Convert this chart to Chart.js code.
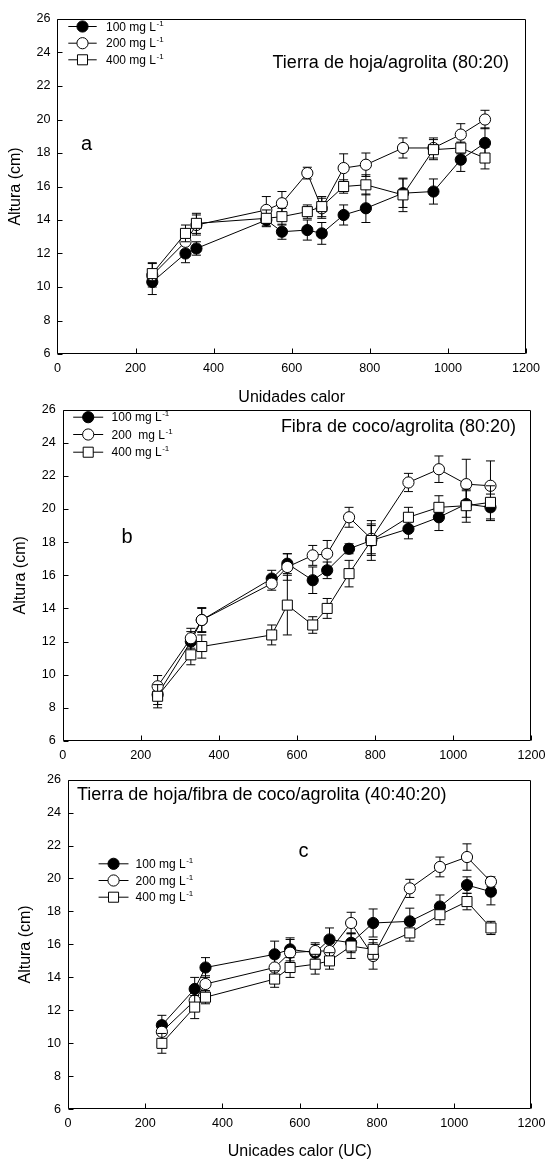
<!DOCTYPE html>
<html>
<head>
<meta charset="utf-8">
<script src="https://cdn.jsdelivr.net/npm/chart.js@4.4.0/dist/chart.umd.min.js"></script>
<style>
html, body { margin: 0; padding: 0; background: #fff; }
#wrap { position: relative; width: 552px; height: 1160px; overflow: hidden; }
canvas { position: absolute; left: 0; }
</style>
</head>
<body>
<div id="wrap">
  <canvas id="ca" width="552" height="410" style="top:0px"></canvas>
  <canvas id="cb" width="552" height="375" style="top:395px"></canvas>
  <canvas id="cc" width="552" height="395" style="top:765px"></canvas>
</div>
<script>
// ---------------- DATA ----------------
const heatUnits = [243, 328, 356, 535, 575, 640, 677, 733, 790, 885, 963, 1033, 1095];
const xTickValues = [0, 200, 400, 600, 800, 1000, 1200];
const xTickLabels = ['0', '200', '400', '600', '800', '1000', '1200'];
const yTickValues = [6, 8, 10, 12, 14, 16, 18, 20, 22, 24, 26];
const yTickLabels = ['6', '8', '10', '12', '14', '16', '18', '20', '22', '24', '26'];

// Panel a: Tierra de hoja/agrolita (80:20)
const a100 = [10.3, 12.0, 12.3, 14.0, 13.3, 13.4, 13.2, 14.3, 14.7, 15.6, 15.7, 17.6, 18.6];
const a200 = [10.7, 12.7, 13.7, 14.6, 15.0, 16.8, 14.7, 17.1, 17.3, 18.3, 18.3, 19.1, 20.0];
const a400 = [10.8, 13.2, 13.8, 14.1, 14.2, 14.5, 14.8, 16.0, 16.1, 15.5, 18.2, 18.3, 17.7];
const a100Err = [0.75, 0.55, 0.4, 0.35, 0.45, 0.6, 0.65, 0.6, 0.85, 0.85, 0.75, 0.7, 0.9];
const a200Err = [0.7, 0.5, 0.6, 0.8, 0.7, 0.35, 0.6, 0.85, 0.7, 0.6, 0.6, 0.65, 0.55];
const a400Err = [0.65, 0.5, 0.6, 0.5, 0.5, 0.4, 0.6, 0.4, 0.6, 1.0, 0.6, 0.35, 0.65];

// Panel b: Fibra de coco/agrolita (80:20)
const b100 = [8.8, 12.0, 13.3, 15.8, 16.7, 15.7, 16.3, 17.6, 18.1, 18.8, 19.5, 20.3, 20.1];
const b200 = [9.3, 12.2, 13.3, 15.5, 16.5, 17.2, 17.3, 19.5, 18.2, 21.6, 22.4, 21.5, 21.4];
const b400 = [8.7, 11.2, 11.7, 12.4, 14.2, 13.0, 14.0, 16.1, 18.1, 19.5, 20.1, 20.2, 20.4];
const b100Err = [0.6, 0.6, 0.7, 0.5, 0.6, 0.8, 0.5, 0.3, 0.9, 0.6, 0.8, 0.8, 0.8];
const b200Err = [0.65, 0.6, 0.75, 0.4, 0.8, 0.6, 0.8, 0.6, 0.9, 0.55, 0.8, 1.5, 1.5];
const b400Err = [0.7, 0.6, 0.7, 0.6, 1.8, 0.5, 0.6, 0.8, 1.2, 0.6, 0.7, 1.0, 1.0];

// Panel c: Tierra de hoja/fibra de coco/agrolita (40:40:20)
const c100 = [11.1, 13.3, 14.6, 15.4, 15.7, 15.5, 16.3, 16.1, 17.3, 17.4, 18.3, 19.6, 19.2];
const c200 = [10.7, 12.6, 13.6, 14.6, 15.5, 15.6, 15.6, 17.3, 15.3, 19.4, 20.7, 21.3, 19.8];
const c400 = [10.0, 12.2, 12.8, 13.9, 14.6, 14.8, 15.0, 15.9, 15.7, 16.7, 17.8, 18.6, 17.0];
const c100Err = [0.6, 0.7, 0.6, 0.8, 0.7, 0.5, 0.7, 0.6, 0.85, 0.8, 0.7, 0.5, 0.8];
const c200Err = [0.6, 0.6, 0.5, 0.6, 0.8, 0.5, 0.5, 0.65, 0.8, 0.55, 0.6, 0.8, 0.3];
const c400Err = [0.6, 0.7, 0.4, 0.5, 0.6, 0.6, 0.5, 0.75, 0.6, 0.5, 0.6, 0.5, 0.4];

// Text
const panelTitles = ['Tierra de hoja/agrolita (80:20)', 'Fibra de coco/agrolita (80:20)', 'Tierra de hoja/fibra de coco/agrolita (40:40:20)'];
const panelLetters = ['a', 'b', 'c'];
const legendLabelsA = ['100 mg L', '200 mg L', '400 mg L'];
const legendLabelsB = ['100 mg L', '200  mg L', '400 mg L'];
const legendLabelsC = ['100 mg L', '200 mg L', '400 mg L'];
const legendSup = '-1';
const yTitle = 'Altura (cm)';
const xTitles = ['Unidades calor', '', 'Unicades calor (UC)'];

// ---------------- STYLE / LAYOUT ----------------
const FONT = "'Liberation Sans', Arial, Helvetica, sans-serif";
Chart.defaults.font.family = FONT;
Chart.defaults.color = '#000';

const seriesStyles = [
  { shape: 'circle', fill: '#000', radius: 5.6 },
  { shape: 'circle', fill: '#fff', radius: 5.6 },
  { shape: 'rect', fill: '#fff', radius: 7.1 }
];

const layouts = [
  { id: 'ca', height: 410, left: 57.4, right: 526, areaTop: 19, areaBottom: 354,
    yTitlePad: 8, xTitle: xTitles[0], xTitlePad: 4, tickPad: 7,
    title: { text: panelTitles[0], x: 509, y: 67.5, align: 'right' },
    letter: { text: panelLetters[0], x: 81, y: 149.5 },
    legend: { labels: legendLabelsA, x0: 68.3, x1: 96.7, tx: 106, rows: [26, 42.7, 59.3] },
    series: [[a100, a100Err], [a200, a200Err], [a400, a400Err]] },
  { id: 'cb', height: 375, left: 62.7, right: 531.5, areaTop: 13, areaBottom: 346,
    yTitlePad: 13, xTitle: xTitles[1], xTitlePad: 0, tickPad: 6.5,
    title: { text: panelTitles[1], x: 516, y: 36.7, align: 'right' },
    letter: { text: panelLetters[1], x: 121.5, y: 147.7 },
    legend: { labels: legendLabelsB, x0: 73.2, x1: 103.2, tx: 111.6, rows: [21.7, 39, 56.7] },
    series: [[b100, b100Err], [b200, b200Err], [b400, b400Err]] },
  { id: 'cc', height: 395, left: 68, right: 537, areaTop: 9.3, areaBottom: 344.3,
    yTitlePad: 18, xTitle: xTitles[2], xTitlePad: 0.3, tickPad: 6.5,
    title: { text: panelTitles[2], x: 77, y: 35, align: 'left' },
    letter: { text: panelLetters[2], x: 298.6, y: 91.7 },
    legend: { labels: legendLabelsC, x0: 98.6, x1: 128.5, tx: 135.6, rows: [98.3, 115, 131.7] },
    series: [[c100, c100Err], [c200, c200Err], [c400, c400Err]] }
];

function drawMarker(ctx, style, x, y) {
  ctx.save();
  ctx.fillStyle = style.fill;
  ctx.strokeStyle = '#000';
  ctx.lineWidth = 1;
  ctx.beginPath();
  if (style.shape === 'circle') {
    ctx.arc(x, y, style.radius, 0, Math.PI * 2);
  } else {
    const s = style.radius * Math.SQRT1_2;
    ctx.rect(x - s, y - s, 2 * s, 2 * s);
  }
  ctx.fill();
  ctx.stroke();
  ctx.restore();
}

const decorPlugin = {
  id: 'decor',
  beforeDatasetDraw(chart, args) {
    const ds = chart.data.datasets[args.index];
    const xs = chart.scales.x, ys = chart.scales.y;
    const ctx = chart.ctx;
    ctx.save();
    ctx.strokeStyle = '#000';
    ctx.lineWidth = 1;
    ds.data.forEach((p, i) => {
      const e = ds.errors[i];
      const x = xs.getPixelForValue(p.x);
      const y1 = ys.getPixelForValue(p.y + e);
      const y2 = ys.getPixelForValue(p.y - e);
      ctx.beginPath();
      ctx.moveTo(x, y1); ctx.lineTo(x, y2);
      ctx.moveTo(x - 4.5, y1); ctx.lineTo(x + 4.5, y1);
      ctx.moveTo(x - 4.5, y2); ctx.lineTo(x + 4.5, y2);
      ctx.stroke();
    });
    ctx.restore();
  },
  afterDraw(chart) {
    const L = chart.options.plugins.decor.layout;
    const ctx = chart.ctx;
    const a = chart.chartArea;
    const xs = chart.scales.x, ys = chart.scales.y;
    ctx.save();
    ctx.strokeStyle = '#000';
    ctx.lineWidth = 1;
    // frame
    const l = Math.round(a.left) + 0.5, r = Math.round(a.right) - 0.5;
    const t = Math.round(a.top) + 0.5, b = Math.round(a.bottom) - 0.5;
    ctx.beginPath();
    ctx.rect(l, t, r - l, b - t);
    ctx.stroke();
    // inward ticks
    ctx.beginPath();
    xTickValues.forEach(v => {
      const x = Math.round(xs.getPixelForValue(v)) + 0.5;
      ctx.moveTo(x, b); ctx.lineTo(x, b - 5);
    });
    yTickValues.forEach(v => {
      const y = Math.round(ys.getPixelForValue(v)) + 0.5;
      ctx.moveTo(l, y); ctx.lineTo(l + 5, y);
    });
    ctx.stroke();
    // panel title and letter
    ctx.fillStyle = '#000';
    ctx.textBaseline = 'alphabetic';
    ctx.font = '18px ' + FONT;
    ctx.textAlign = L.title.align;
    ctx.fillText(L.title.text, L.title.x, L.title.y);
    ctx.font = '20px ' + FONT;
    ctx.textAlign = 'left';
    ctx.fillText(L.letter.text, L.letter.x, L.letter.y);
    // legend
    L.legend.rows.forEach((y, i) => {
      ctx.beginPath();
      ctx.moveTo(L.legend.x0, y + 0.5);
      ctx.lineTo(L.legend.x1, y + 0.5);
      ctx.stroke();
      drawMarker(ctx, seriesStyles[i], (L.legend.x0 + L.legend.x1) / 2, y + 0.5);
      ctx.fillStyle = '#000';
      ctx.font = '12px ' + FONT;
      ctx.textAlign = 'left';
      ctx.textBaseline = 'alphabetic';
      const txt = L.legend.labels[i];
      ctx.fillText(txt, L.legend.tx, y + 4.5);
      const w = ctx.measureText(txt).width;
      ctx.font = '8px ' + FONT;
      ctx.fillText(legendSup, L.legend.tx + w + 0.5, y - 0.5);
    });
    ctx.restore();
  }
};

function makeChart(L) {
  const datasets = L.series.map((s, i) => ({
    data: heatUnits.map((x, k) => ({ x: x, y: s[0][k] })),
    errors: s[1],
    borderColor: '#000',
    borderWidth: 1,
    showLine: true,
    fill: false,
    tension: 0,
    pointStyle: seriesStyles[i].shape === 'circle' ? 'circle' : 'rect',
    pointRadius: seriesStyles[i].radius,
    pointBackgroundColor: seriesStyles[i].fill,
    pointBorderColor: '#000',
    pointBorderWidth: 1,
    order: 3 - i
  }));
  return new Chart(document.getElementById(L.id), {
    type: 'scatter',
    data: { datasets: datasets },
    plugins: [decorPlugin],
    options: {
      responsive: false,
      animation: false,
      events: [],
      layout: { padding: { left: 0, right: 552 - L.right, top: L.areaTop, bottom: 0 } },
      plugins: {
        legend: { display: false },
        tooltip: { enabled: false },
        decor: { layout: L }
      },
      scales: {
        x: {
          type: 'linear', min: 0, max: 1200,
          afterBuildTicks: s => { s.ticks = xTickValues.map(v => ({ value: v })); },
          afterFit: s => { s.height = L.height - L.areaBottom; },
          grid: { display: false, drawTicks: false },
          border: { display: false },
          ticks: { padding: L.tickPad, color: '#000', font: { size: 12.6 }, maxRotation: 0, autoSkip: false,
                   callback: (v, i) => xTickLabels[i] },
          title: { display: !!L.xTitle, text: L.xTitle, color: '#000', font: { size: 16, lineHeight: 1 }, padding: { top: 0, bottom: L.xTitlePad } }
        },
        y: {
          type: 'linear', min: 6, max: 26,
          afterBuildTicks: s => { s.ticks = yTickValues.map(v => ({ value: v })); },
          afterFit: s => { s.width = L.left; },
          grid: { display: false, drawTicks: false },
          border: { display: false },
          ticks: { padding: 7, color: '#000', font: { size: 12.6 }, autoSkip: false,
                   callback: (v, i) => yTickLabels[i] },
          title: { display: true, text: yTitle, color: '#000', font: { size: 16, lineHeight: 1 }, padding: { top: L.yTitlePad, bottom: 0 } }
        }
      }
    }
  });
}

layouts.forEach(makeChart);
</script>
</body>
</html>
